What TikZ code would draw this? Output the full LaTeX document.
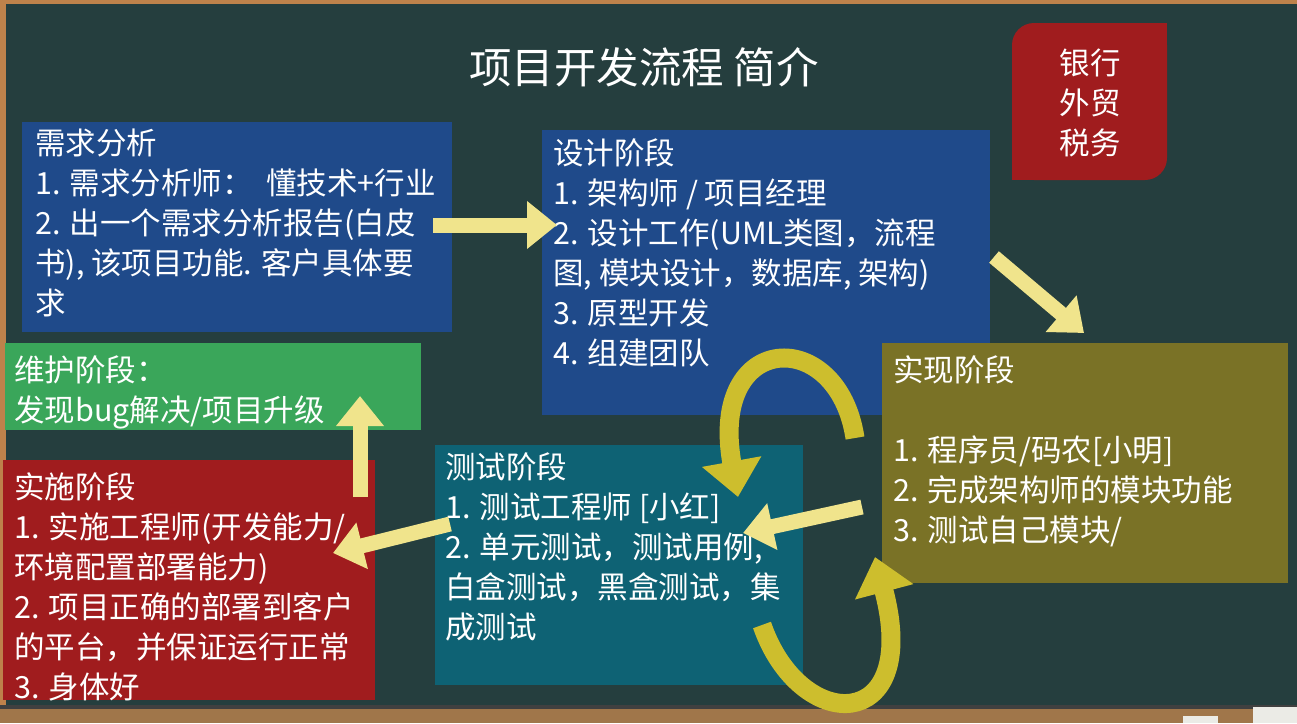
\documentclass[tikz,border=0pt]{standalone}
\usepackage{fontspec}
\setmainfont{Noto Sans CJK SC}
\usetikzlibrary{arrows.meta}
\definecolor{board}{RGB}{37,62,62}
\definecolor{frameBrown}{RGB}{190,130,75}
\definecolor{wood}{RGB}{160,118,74}
\definecolor{chalk}{RGB}{235,235,230}
\definecolor{blueBox}{RGB}{31,74,138}
\definecolor{oliveBox}{RGB}{122,114,38}
\definecolor{tealBox}{RGB}{14,98,116}
\definecolor{greenBox}{RGB}{58,166,90}
\definecolor{redBox}{RGB}{160,28,30}
\definecolor{paleArrow}{RGB}{240,228,140}
\definecolor{curveArrow}{RGB}{205,190,45}
\tikzset{
  box/.style={rectangle, draw=none, inner sep=0pt, anchor=north west},
  boxtext/.style={anchor=north west, inner sep=0pt, align=left, text=white,
    font=\fontsize{30.5}{40}\selectfont},
  titletext/.style={inner sep=0pt, text=white, font=\fontsize{42.5}{48}\selectfont},
  blockarrow/.style={draw=paleArrow, line width=15pt,
    -{Triangle[length=30pt,width=46pt]}},
  curvearrow/.style={draw=curveArrow, line width=19pt,
    -{Triangle[length=36pt,width=58pt]}}
}
\begin{document}
\begin{tikzpicture}[x=1pt,y=-1pt]
\useasboundingbox (0,0) rectangle (1297,723);
% board and frame
\fill[board] (0,0) rectangle (1297,723);
\fill[frameBrown] (0,0) rectangle (1297,4);
\fill[frameBrown] (0,0) rectangle (6,708);
\fill[wood] (0,708) rectangle (1297,723);
\fill[black!75] (0,705) rectangle (1297,709);
\fill[chalk] (1183,716) rectangle (1218,723);
\fill[chalk] (1253,707) rectangle (1297,723);

% title
\node[titletext] (title) at (644,67) {项目开发流程 简介};

% red corner box
\fill[redBox, rounded corners=22pt] (1012,23) rectangle (1167,180);
\fill[redBox] (1090,23) rectangle (1167,100);
\fill[redBox] (1012,100) rectangle (1090,180);
\node[boxtext, anchor=center, align=center] (bank) at (1090,103) {银行\\外贸\\税务};

% boxes
\node[box, fill=blueBox, minimum width=430pt, minimum height=210pt] (req) at (22,122) {};
\node[box, fill=blueBox, minimum width=448pt, minimum height=285pt] (des) at (542,130) {};
\node[box, fill=oliveBox, minimum width=406pt, minimum height=240pt] (impl) at (882,343) {};
\node[box, fill=tealBox, minimum width=368pt, minimum height=240pt] (test) at (435,445) {};
\node[box, fill=greenBox, minimum width=416pt, minimum height=87pt] (maint) at (5,343) {};
\node[box, fill=redBox, minimum width=372pt, minimum height=240pt] (deploy) at (3,460) {};

% texts
\node[boxtext] (reqtext) at (35,129) {需求分析\\1. 需求分析师：\ \ 懂技术+行业\\2. 出一个需求分析报告(白皮\\书), 该项目功能. 客户具体要\\求};
\node[boxtext] (destext) at (553,138) {设计阶段\\1. 架构师 / 项目经理\\2. 设计工作(UML类图，流程\\图, 模块设计，数据库, 架构)\\3. 原型开发\\4. 组建团队};
\node[boxtext] (impltext) at (893,355) {实现阶段\\[40pt]1. 程序员/码农[小明]\\2. 完成架构师的模块功能\\3. 测试自己模块/};
\node[boxtext] (testtext) at (445,452) {测试阶段\\1. 测试工程师 [小红]\\2. 单元测试，测试用例,\\白盒测试，黑盒测试，集\\成测试};
\node[boxtext] (mainttext) at (14,355) {维护阶段：\\发现bug解决/项目升级};
\node[boxtext] (deploytext) at (14,472) {实施阶段\\1. 实施工程师(开发能力/\\环境配置部署能力)\\2. 项目正确的部署到客户\\的平台，并保证运行正常\\3. 身体好};

% arrow end points
\coordinate (a1s) at (433,225);
\coordinate (a1e) at (557,225);
\coordinate (a2s) at (994,257);
\coordinate (a2e) at (1084,333);
\coordinate (a3s) at (862,507);
\coordinate (a3e) at (743,533);
\coordinate (a4s) at (450,524);
\coordinate (a4e) at (333,553);
\coordinate (a5s) at (360,497);
\coordinate (a5e) at (360,396);
\coordinate (c1s) at (855,438);
\coordinate (c1e) at (738,497);
\coordinate (c2s) at (762,625);
\coordinate (c2e) at (875,557);

% straight arrows
\draw[blockarrow] (a1s) -- (a1e);
\draw[blockarrow] (a2s) -- (a2e);
\draw[blockarrow] (a3s) -- (a3e);
\draw[blockarrow] (a4s) -- (a4e);
\draw[blockarrow] (a5s) -- (a5e);

% curved arrows
\draw[curvearrow] (c1s) .. controls (838,325) and (708,330) .. (c1e);
\draw[curvearrow] (c2s) .. controls (800,735) and (922,735) .. (c2e);
\end{tikzpicture}
\end{document}
